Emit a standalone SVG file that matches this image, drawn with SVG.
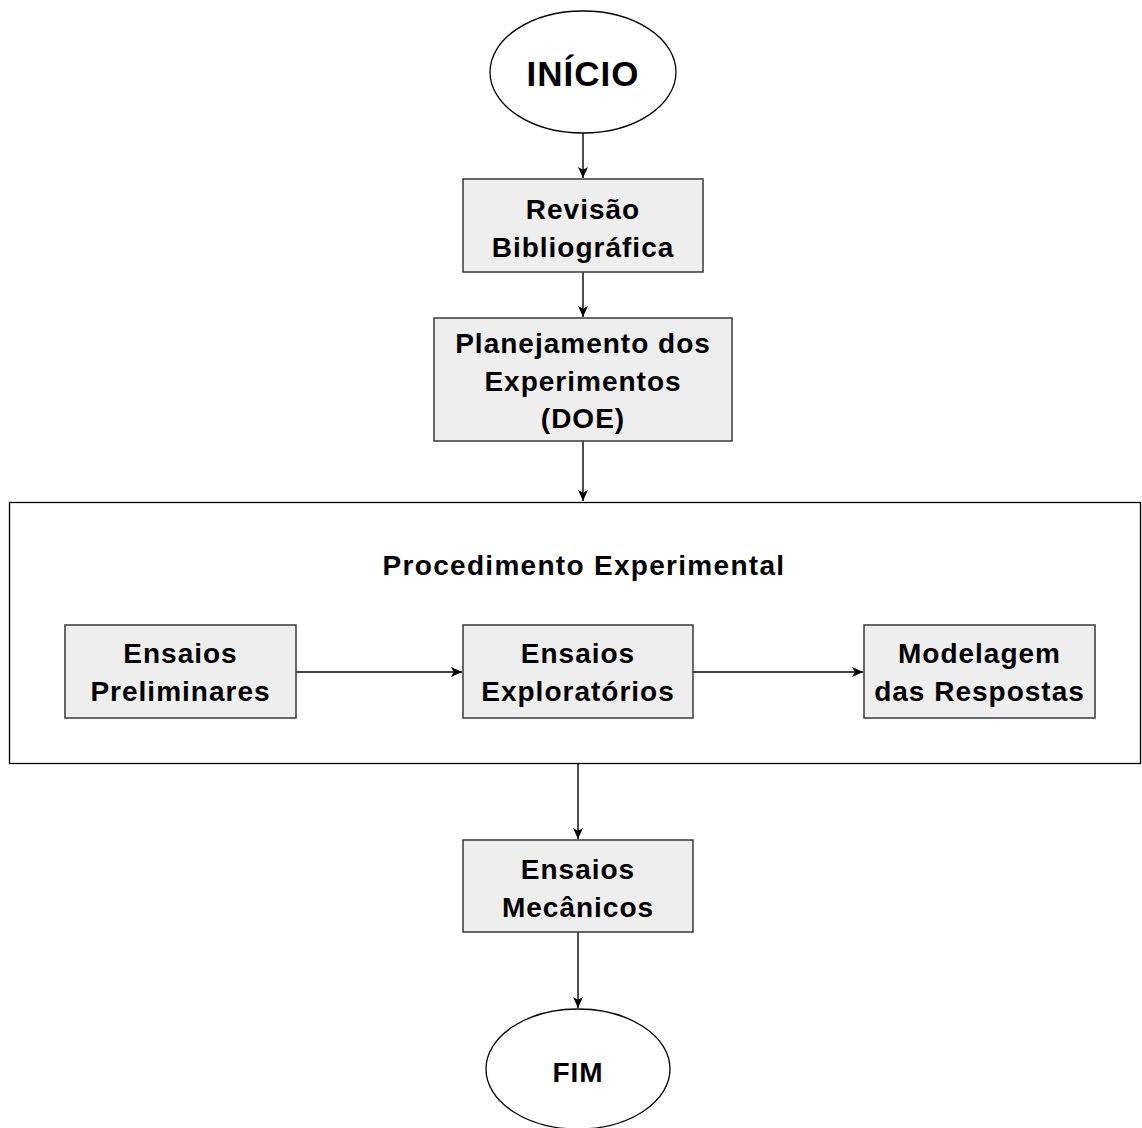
<svg xmlns="http://www.w3.org/2000/svg" width="1142" height="1128" viewBox="0 0 1142 1128">
<style>
.box{fill:#eeeeee;stroke:#36393d;stroke-width:1.5}
.ell{fill:#ffffff;stroke:#000000;stroke-width:1.3}
.cont{fill:none;stroke:#000000;stroke-width:1.3}
.t{font-family:"Liberation Sans",Arial,Helvetica,sans-serif;font-weight:bold;font-size:28px;letter-spacing:1px;fill:#000000;text-anchor:middle;dominant-baseline:central}
.edge{fill:none;stroke:#000000;stroke-width:1.4}
</style>
<defs>
<marker id="arr" viewBox="0 0 10 10" refX="10" refY="5" markerWidth="11" markerHeight="11" markerUnits="userSpaceOnUse" orient="auto">
<path d="M0,0.5 L10,5 L0,9.5 L2.5,5 Z" fill="#000000"/>
</marker>
</defs>
<rect width="1142" height="1128" fill="#ffffff"/>
<g id="container">
<rect class="cont" x="9.5" y="502.5" width="1131" height="261"/>
<text class="t" x="584" y="565" style="letter-spacing:1.3px">Procedimento Experimental</text>
</g>
<g id="connectors">
<path class="edge" d="M583,133 V178" marker-end="url(#arr)"/>
<path class="edge" d="M583,272 V317" marker-end="url(#arr)"/>
<path class="edge" d="M583,441 V501" marker-end="url(#arr)"/>
<path class="edge" d="M296,672 H462" marker-end="url(#arr)"/>
<path class="edge" d="M693,672 H863" marker-end="url(#arr)"/>
<path class="edge" d="M578,764 V839" marker-end="url(#arr)"/>
<path class="edge" d="M578,932 V1008" marker-end="url(#arr)"/>
</g>
<g id="inicio">
<ellipse class="ell" cx="583" cy="72" rx="93" ry="61"/>
<text class="t" x="583" y="73" style="font-size:35px">INÍCIO</text>
</g>
<g id="revisao">
<rect class="box" x="463" y="179" width="240" height="93"/>
<text class="t" x="583" y="209">Revisão</text>
<text class="t" x="583" y="247">Bibliográfica</text>
</g>
<g id="planejamento">
<rect class="box" x="434" y="318" width="298" height="123"/>
<text class="t" x="583" y="343">Planejamento dos</text>
<text class="t" x="583" y="381">Experimentos</text>
<text class="t" x="583" y="418">(DOE)</text>
</g>
<g id="preliminares">
<rect class="box" x="65" y="625" width="231" height="93"/>
<text class="t" x="180.5" y="653">Ensaios</text>
<text class="t" x="180.5" y="691">Preliminares</text>
</g>
<g id="exploratorios">
<rect class="box" x="463" y="625" width="230" height="93"/>
<text class="t" x="578" y="653">Ensaios</text>
<text class="t" x="578" y="691">Exploratórios</text>
</g>
<g id="modelagem">
<rect class="box" x="864" y="625" width="231" height="93"/>
<text class="t" x="979.5" y="653">Modelagem</text>
<text class="t" x="979.5" y="691">das Respostas</text>
</g>
<g id="mecanicos">
<rect class="box" x="463" y="840" width="230" height="92"/>
<text class="t" x="578" y="869">Ensaios</text>
<text class="t" x="578" y="907">Mecânicos</text>
</g>
<g id="fim">
<ellipse class="ell" cx="578" cy="1069" rx="92" ry="60"/>
<text class="t" x="578" y="1072">FIM</text>
</g>
</svg>
